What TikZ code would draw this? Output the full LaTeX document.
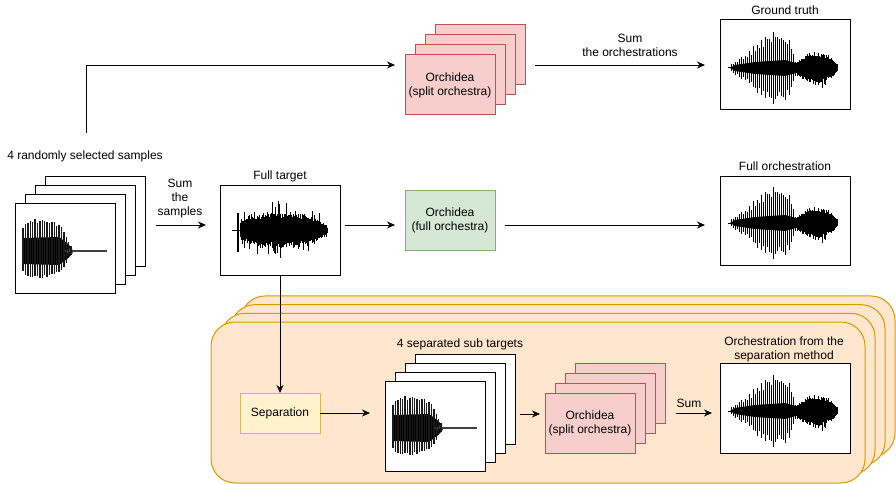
\documentclass[tikz,border=0pt]{standalone}
\usepackage{fontspec}
\setmainfont{Liberation Sans}
\usetikzlibrary{arrows.meta}
\definecolor{pinkF}{HTML}{F8CECC}\definecolor{pinkD}{HTML}{B85450}
\definecolor{greenF}{HTML}{D5E8D4}\definecolor{greenD}{HTML}{82B366}
\definecolor{yelF}{HTML}{FFF2CC}\definecolor{yelD}{HTML}{D6B656}
\definecolor{orF}{HTML}{FFE6CC}\definecolor{orD}{HTML}{D79B00}
\tikzset{
  base/.style={inner sep=0pt, outer sep=0pt, anchor=north west, line width=1pt},
  wbox/.style={base, draw=black, fill=white},
  pbox/.style={base, draw=pinkD, fill=pinkF, minimum width=90pt, minimum height=60pt, align=center, font=\fontsize{12}{14}\selectfont},
  gbox/.style={base, draw=greenD, fill=greenF, minimum width=90pt, minimum height=60pt, align=center, font=\fontsize{12}{14}\selectfont},
  ybox/.style={base, draw=yelD, fill=yelF, minimum width=80pt, minimum height=40pt, align=center, font=\fontsize{12}{14}\selectfont},
  panelbox/.style={base, draw=orD, fill=orF, rounded corners=24pt, minimum width=654pt, minimum height=161pt},
  lbl/.style={font=\fontsize{12}{14}\selectfont, align=center, inner sep=0pt},
  arr/.style={-{Stealth[length=8pt,width=7pt]}, line width=0.9pt},
  samplewave/.pic={
    \pgfmathsetseed{11}
    \fill[black] (-43,0) -- (-42,-13) -- (-6,-14) -- (2,-8) -- (7,-3) -- (7,3) -- (2,8) -- (-6,14) -- (-42,13) -- cycle;
    \draw[line width=1.3pt, black!75] (0,0) -- (42,0);
    \draw[line width=0.8pt, black!75] (1,-4) -- (3,3) -- (5,-3) -- (7,2) -- (9,-1);
    \foreach \x/\a in {-42/22,-39.6/27,-37.2/29,-34.8/30,-32.4/29,-30/30,-27.6/28,-25.2/30,-22.8/29,-20.4/28,-18/29,-15.6/27,-13.2/28,-10.8/27,-8.4/26,-6/25,-3.6/22,-1.2/19,1.2/14,3.6/9,6/5}{
      \pgfmathsetmacro\tp{-\a*(0.97+0.13*rnd)}
      \pgfmathsetmacro\bt{\a*(0.8+0.13*rnd)}
      \draw[line width=1.4pt, black!90] (\x,\tp) -- (\x,\bt);
    }
  },
  orchwave/.pic={
    \pgfmathsetseed{7}
    \draw[line width=1pt] (-57,0) -- (-53,0);
    \fill[black] (-55,0) -- (-50,-3) -- (-30,-6) -- (0,-8) -- (11,-5) -- (11,5) -- (0,8) -- (-30,6) -- (-50,3) -- cycle;
    \foreach \x/\a in {-54/4,-52/5,-50/7,-48/6,-46/9,-44/12,-42/10,-40/14,-38/13,-36/18,-34/16,-32/22,-30/20,-28/25,-26/22,-24/27,-22/24,-20/30,-18/28,-16/33,-14/30,-12/35,-10/32,-8/34,-6/30,-4/33,-2/28,0/31,2/26,4/27,6/20,8/14,10/8}{
      \pgfmathsetmacro\tp{-\a*(0.8+0.25*rnd)}
      \pgfmathsetmacro\bt{\a*(0.8+0.25*rnd)}
      \draw[line width=0.8pt] (\x,\tp) -- (\x,\bt);
    }
    \foreach \x in {9,9.8,...,53}{
      \pgfmathsetmacro\s{max(sin((\x-8)*3.913),0.05)}
      \pgfmathsetmacro\e{13*pow(\s,0.8)+1}
      \pgfmathsetmacro\ra{rnd}\pgfmathsetmacro\rb{rnd}
      \pgfmathsetmacro\tp{-\e*(0.8+0.3*rnd+0.4*\ra*\ra*\ra*\ra*\ra)}
      \pgfmathsetmacro\bt{\e*(0.8+0.3*rnd+0.4*\rb*\rb*\rb*\rb*\rb)}
      \draw[line width=1pt] (\x,\tp) -- (\x,\bt);
    }
  },
  fullwave/.pic={
    \pgfmathsetseed{3}
    \draw[line width=1pt] (-48,0) -- (-40,0);
    \draw[line width=1.3pt] (-42,-17) -- (-42,22);
    \foreach \x in {-40,-39.3,...,48}{
      \pgfmathsetmacro\s{max(sin((\x+46)*1.9149),0.02)}
      \pgfmathsetmacro\e{17*sqrt(\s)}
      \pgfmathsetmacro\ra{rnd}\pgfmathsetmacro\rb{rnd}
      \pgfmathsetmacro\tp{-\e*(0.7+0.3*rnd+1.0*\ra*\ra*\ra*\ra*\ra*\ra)}
      \pgfmathsetmacro\bt{\e*(0.7+0.3*rnd+1.0*\rb*\rb*\rb*\rb*\rb*\rb)}
      \draw[line width=1pt] (\x,\tp) -- (\x,\bt);
    }
  }
}
\begin{document}
\begin{tikzpicture}[x=1pt,y=-1pt]
\useasboundingbox (0,0) rectangle (896,484);

% bottom panel stack
\foreach \k in {3,2,1}{
  \node[panelbox] (p\k) at ({211+10*\k},{322-8.67*\k}) {};
}
\node[panelbox] (p0) at (211,322) {};

% samples stack
\foreach \k in {3,2,1}{
  \node[wbox, minimum width=100pt, minimum height=90pt] (s\k) at ({15+10*\k},{203-8.67*\k}) {};
}
\node[wbox, minimum width=100pt, minimum height=90pt] (s0) at (15,203) {};
\pic at ([yshift=-3pt]s0.center) {samplewave};
\node[lbl] (lsamp) at (85,156) {4 randomly selected samples};
\node[lbl] (lsumS) at (180,199) {Sum\\the\\samples};

% full target
\node[wbox, minimum width=120pt, minimum height=90pt] (ft) at (220,185) {};
\pic at (ft.center) {fullwave};
\node[lbl] (lft) at (280,176) {Full target};

% top split orchestra stack
\foreach \k in {3,2,1}{
  \node[pbox] (os\k) at ({405+10*\k},{55-10*\k}) {};
}
\node[pbox] (os0) at (405,55) {Orchidea\\(split orchestra)};
\node[lbl] (lsumO) at (630,45) {Sum\\the orchestrations};

% full orchestra
\node[gbox] (ofull) at (405,190) {Orchidea\\(full orchestra)};

% outputs
\node[wbox, minimum width=130pt, minimum height=90pt] (gt) at (720,20) {};
\pic at ([yshift=-3pt]gt.center) {orchwave};
\node[lbl] (lgt) at (785,10) {Ground truth};
\node[wbox, minimum width=130pt, minimum height=89pt] (fo) at (720,176) {};
\pic at ([yshift=-2.5pt]fo.center) {orchwave};
\node[lbl] (lfo) at (785,166) {Full orchestration};

% separation branch
\node[ybox] (sep) at (240,393) {Separation};
\foreach \k in {3,2,1}{
  \node[wbox, minimum width=100pt, minimum height=90pt] (st\k) at ({385+10*\k},{381-8.67*\k}) {};
}
\node[wbox, minimum width=100pt, minimum height=90pt] (st0) at (385,381) {};
\pic at ([yshift=-2pt]st0.center) {samplewave};
\node[lbl] (lst) at (460,344) {4 separated sub targets};
\foreach \k in {3,2,1}{
  \node[pbox] (ob\k) at ({545+10*\k},{393-10*\k}) {};
}
\node[pbox] (ob0) at (545,393) {Orchidea\\(split orchestra)};
\node[lbl] (lsum) at (689,403) {Sum};
\node[wbox, minimum width=130pt, minimum height=90pt] (so) at (720,363) {};
\pic at ([yshift=-3pt]so.center) {orchwave};
\node[lbl] (lso) at (784,349) {Orchestration from the\\separation method};

% connector end points
\coordinate (aS) at (86,133);  \coordinate (aE) at (395,65);
\coordinate (bS) at (156,225); \coordinate (bE) at (206,225);
\coordinate (cS) at (345,225); \coordinate (cE) at (395,225);
\coordinate (dS) at (505,225); \coordinate (dE) at (705,225);
\coordinate (eS) at (535,65);  \coordinate (eE) at (705,65);
\coordinate (hS) at (520,414); \coordinate (hE) at (540,414);
\coordinate (iS) at (676,413); \coordinate (iE) at (712,413);

\draw[arr] (aS) |- (aE);
\draw[arr] (bS) -- (bE);
\draw[arr] (cS) -- (cE);
\draw[arr] (dS) -- (dE);
\draw[arr] (eS) -- (eE);
\draw[arr] (ft.south) -- (sep.north);
\draw[arr, shorten >=15pt] (sep.east) -- (sep.east -| st0.west);
\draw[arr] (hS) -- (hE);
\draw[arr] (iS) -- (iE);
\end{tikzpicture}
\end{document}
